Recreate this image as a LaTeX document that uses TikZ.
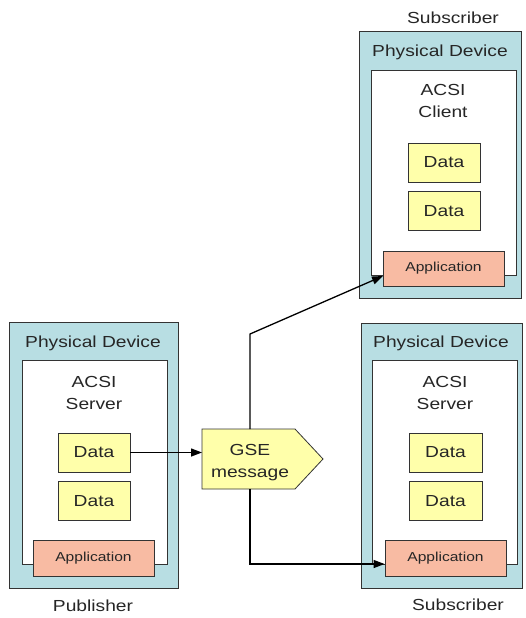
\documentclass[tikz,border=0pt]{standalone}
\usepackage{fontspec}
\setmainfont{Liberation Sans}[FakeStretch=1.2]
\usetikzlibrary{arrows.meta,calc}
\definecolor{teal}{HTML}{B8DEE3}
\definecolor{datay}{HTML}{FFFFAA}
\definecolor{appc}{HTML}{F8BBA3}
\definecolor{edge}{HTML}{333333}
\begin{document}
\begin{tikzpicture}[x=1pt,y=-1pt,
  every node/.style={font=\fontsize{16}{22}\selectfont, text=black!85, inner sep=0pt},
  outerbox/.style={draw=edge, line width=1pt, fill=teal},
  innerbox/.style={draw=edge, line width=1pt, fill=white},
  databox/.style={draw=edge, line width=0.8pt, fill=datay, minimum width=72pt, minimum height=39pt},
  appbox/.style={draw=edge, line width=0.8pt, fill=appc, minimum width=121pt, minimum height=36pt, font=\fontsize{13}{15}\selectfont},
  lbl/.style={align=center},
  conn/.style={line width=1.3pt, -{Triangle[length=11pt,width=8pt]}}
]
\useasboundingbox (0,0) rectangle (526,618);
\fill[white] (0,0) rectangle (526,618);

% Publisher device
\node[outerbox, minimum width=169pt, minimum height=266pt] (pubout) at (93.5,455) {};
\node[innerbox, minimum width=145pt, minimum height=204pt] (pubin) at (94.5,462) {};
\node[lbl] (pubpd) at (93,343) {Physical Device};
\node[lbl] (pubacsi) at (94,393) {ACSI\\Server};
\node[databox] (pubd1) at (94,452.5) {Data};
\node[databox] (pubd2) at (94,501) {Data};
\node[appbox] (pubapp) at (93.5,558) {Application};
\node[lbl] (publbl) at (93,606) {Publisher};

% Top subscriber device
\node[outerbox, minimum width=162pt, minimum height=266pt] (s1out) at (440,165) {};
\node[innerbox, minimum width=145pt, minimum height=205pt] (s1in) at (443.5,172.5) {};
\node[lbl] (s1pd) at (440,52) {Physical Device};
\node[lbl] (s1acsi) at (443,101) {ACSI\\Client};
\node[databox] (s1d1) at (444,162.5) {Data};
\node[databox] (s1d2) at (444,211) {Data};
\node[appbox, minimum height=35pt] (s1app) at (443.5,268.5) {Application};
\node[lbl] (s1lbl) at (453,18) {Subscriber};

% Lower subscriber device
\node[outerbox, minimum width=161pt, minimum height=265pt] (s2out) at (441.5,455.5) {};
\node[innerbox, minimum width=145pt, minimum height=204pt] (s2in) at (444.5,462) {};
\node[lbl] (s2pd) at (441,343) {Physical Device};
\node[lbl] (s2acsi) at (445,393) {ACSI\\Server};
\node[databox, minimum width=73pt] (s2d1) at (445.5,452.5) {Data};
\node[databox, minimum width=73pt] (s2d2) at (445.5,501) {Data};
\node[appbox] (s2app) at (445.5,558) {Application};
\node[lbl] (s2lbl) at (458,605) {Subscriber};

% GSE message
\draw[draw=edge, line width=0.8pt, fill=datay] (202,429) -- (295,429) -- (323,459) -- (295,489) -- (202,489) -- cycle;
\node[lbl] (gse) at (250,463) {GSE\\message};
\coordinate (gsein) at (202,452.5);
\coordinate (gsetop) at (250,429);
\coordinate (gsebot) at (250,489);
\coordinate (bend1) at (250,334);
\coordinate (t1) at (383,276);

% Connectors
\draw[conn] (pubd1.east) -- (gsein);
\draw[conn] (gsetop) -- (bend1) -- (t1);
\draw[conn] (gsebot) |- (s2app.west |- 0,564);
\end{tikzpicture}
\end{document}
